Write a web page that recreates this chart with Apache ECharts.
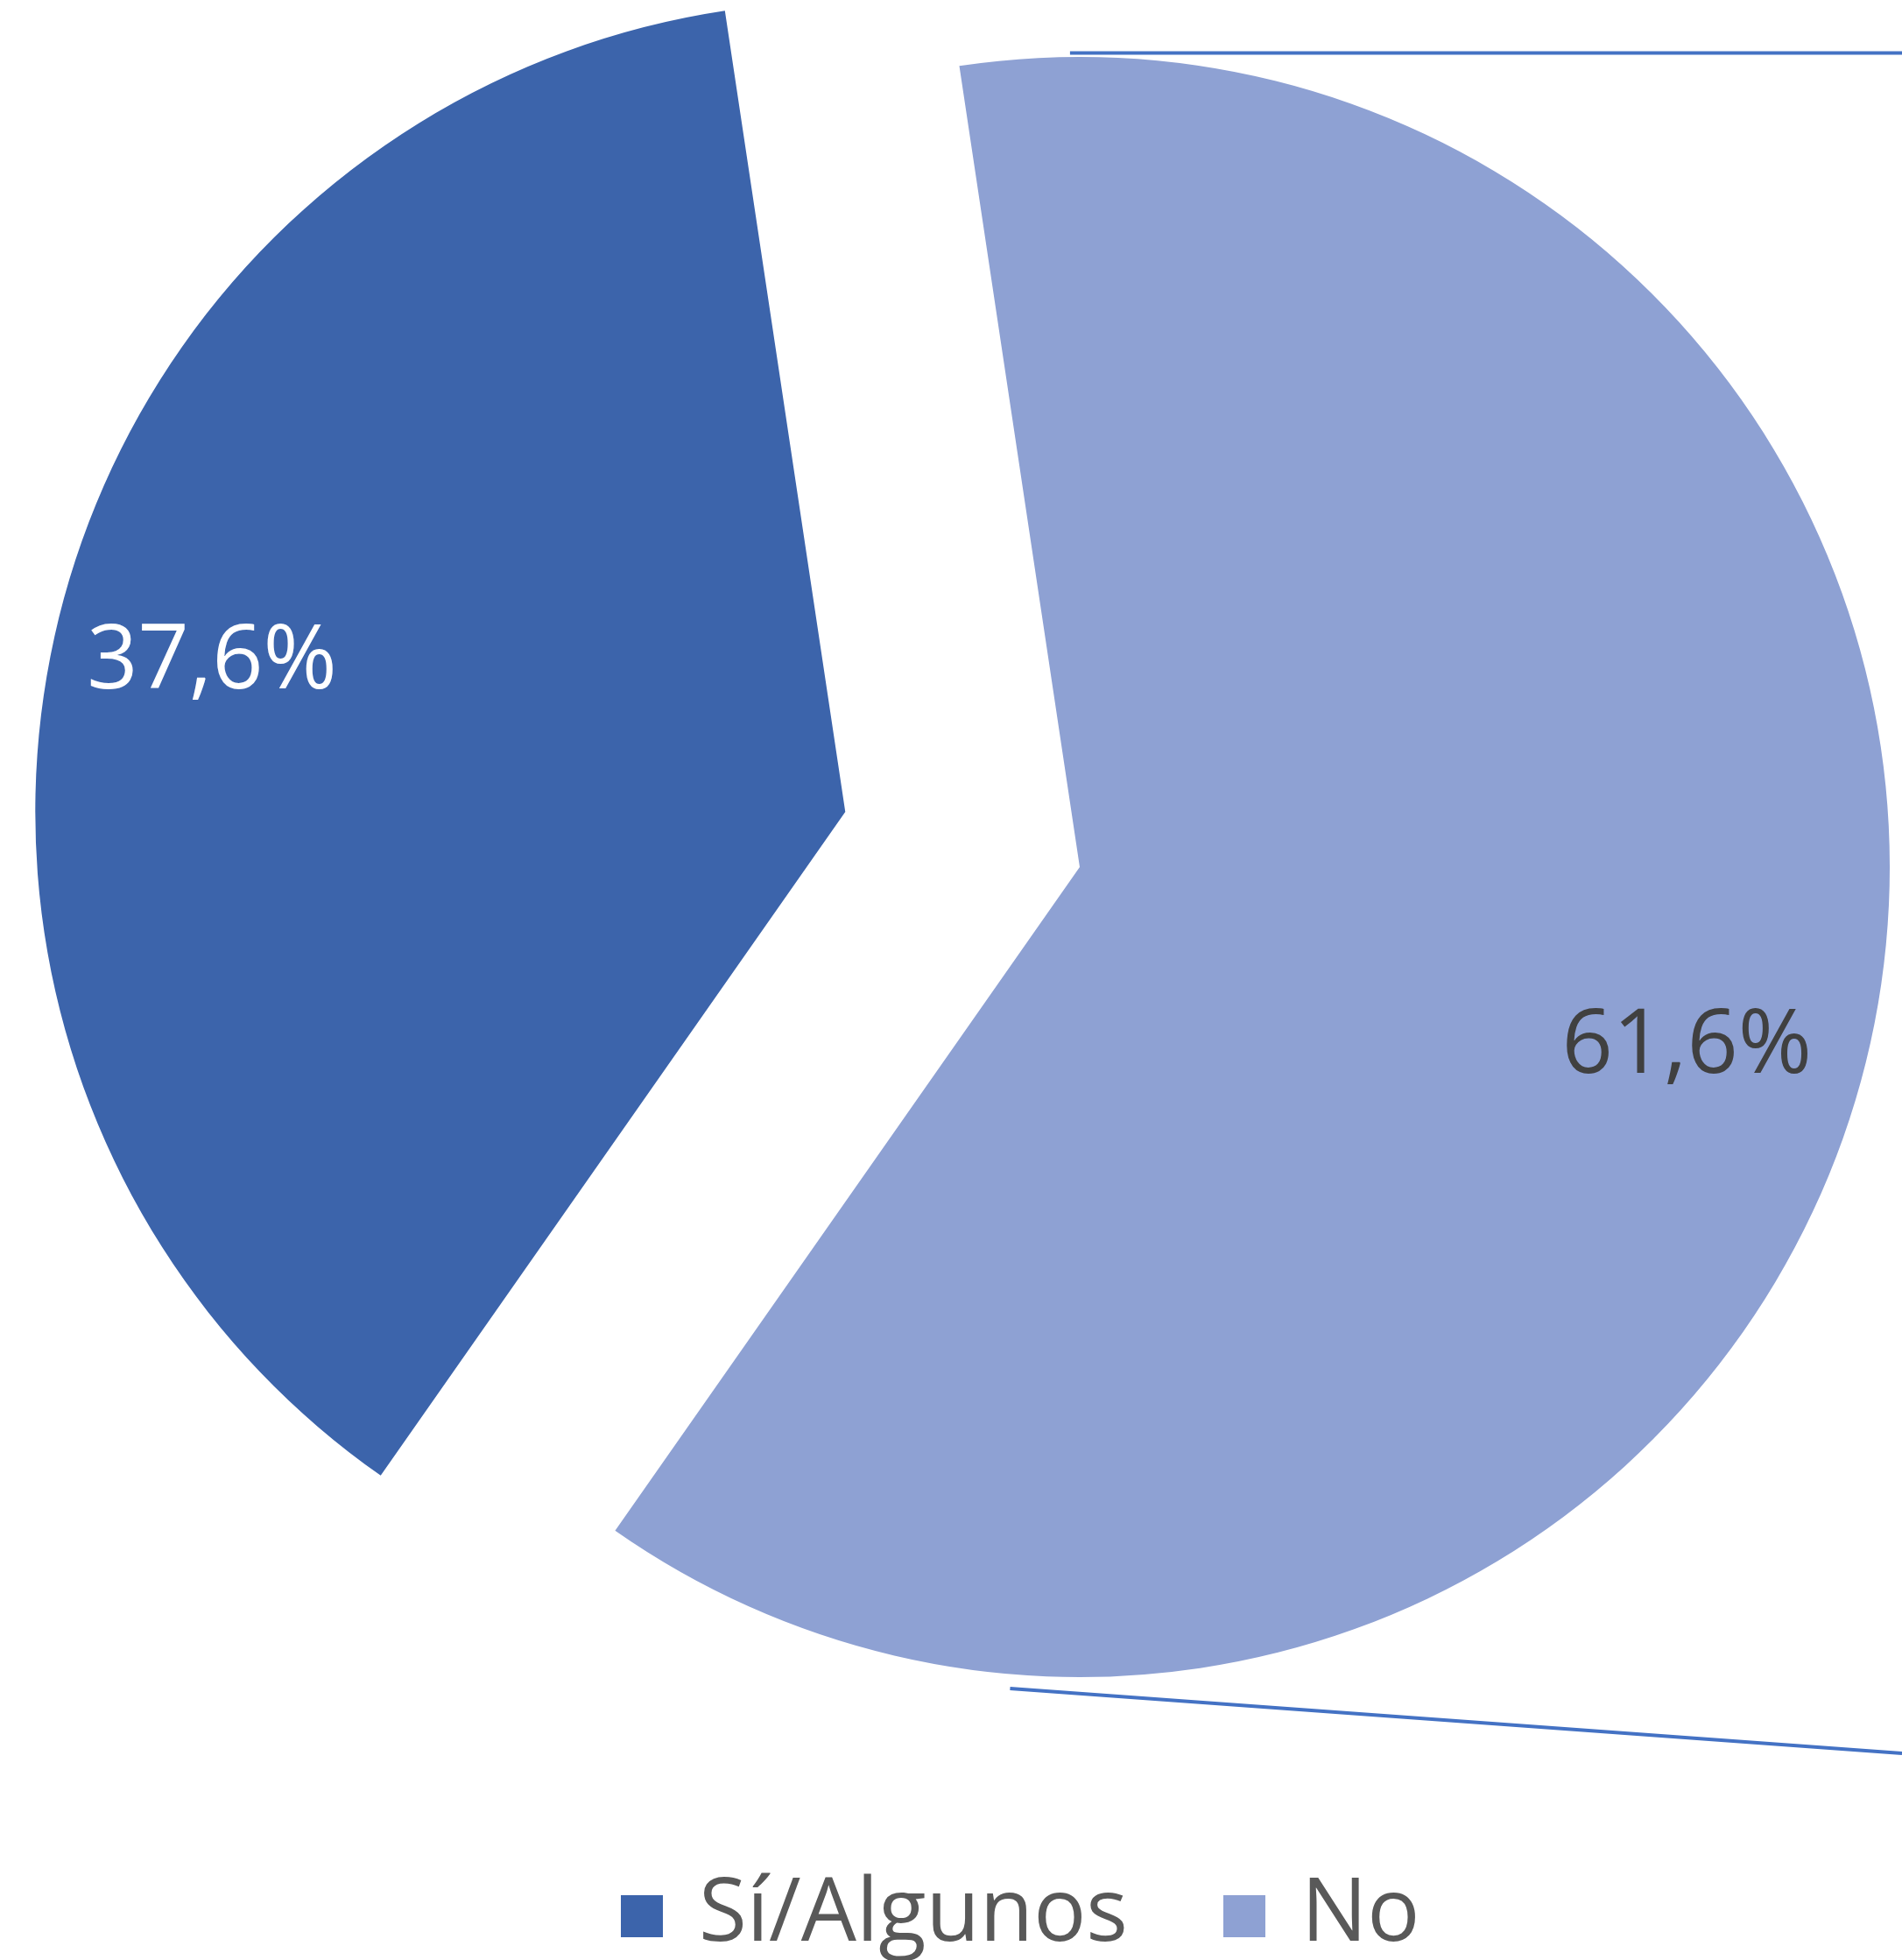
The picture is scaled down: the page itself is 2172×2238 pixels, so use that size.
<!DOCTYPE html>
<html>
<head>
<meta charset="utf-8">
<script src="https://cdn.jsdelivr.net/npm/echarts@6/dist/echarts.min.js"></script>
<style>
html,body{margin:0;padding:0;background:#fff;}
#chart{width:2172px;height:2238px;}
</style>
</head>
<body>
<div id="chart"></div>
<script>
// ---- data ----
const categories = ['Sí/Algunos', 'No'];
const values = [37.6, 61.6];
const sliceColors = ['#3C64AB', '#8EA1D3'];
const labelColors = ['#FFFFFF', '#404040'];

// ---- layout ----
const CX = 1233, CY = 990, R = 925;
const FONT = '"Open Sans", "Noto Sans", sans-serif';
const labelOffsets = [[0, 0], [-30, 36]];

function fmt(v) { return String(v.toFixed(1)).replace('.', ',') + '%'; }

const chart = echarts.init(document.getElementById('chart'), null, { renderer: 'canvas' });

const baseData = categories.map((c, i) => ({
  name: c, value: values[i], selected: i === 0,
  itemStyle: { color: sliceColors[i] }
}));
const labelData = categories.map((c, i) => ({
  name: c, value: values[i], selected: i === 0,
  itemStyle: { color: 'rgba(0,0,0,0)' },
  label: { color: labelColors[i], offset: labelOffsets[i] }
}));

const option = {
  backgroundColor: '#ffffff',
  animation: false,
  textStyle: { fontFamily: FONT },
  legend: {
    left: 704,
    top: 2128,
    orient: 'horizontal',
    itemWidth: 48,
    itemHeight: 48,
    itemGap: 109,
    icon: 'rect',
    selectedMode: false,
    data: categories.map((c, i) => ({ name: c, itemStyle: { color: sliceColors[i] } })),
    textStyle: { fontFamily: FONT, fontSize: 100, color: '#595959', lineHeight: 110, padding: [0, 0, 0, 36] }
  },
  series: [
    {
      type: 'pie',
      center: [CX, CY],
      radius: R,
      startAngle: 235,
      clockwise: true,
      selectedMode: 'single',
      selectedOffset: 275,
      emphasis: { disabled: true },
      label: { show: false },
      labelLine: { show: false },
      itemStyle: { borderWidth: 0 },
      data: baseData
    },
    {
      type: 'pie',
      center: [CX, CY],
      radius: [R * 0.6, R],
      startAngle: 235,
      clockwise: true,
      selectedMode: 'single',
      selectedOffset: 275,
      silent: true,
      emphasis: { disabled: true },
      labelLine: { show: false },
      label: {
        show: true,
        position: 'inside',
        fontFamily: FONT,
        fontSize: 102,
        formatter: p => fmt(p.value)
      },
      itemStyle: { borderWidth: 0 },
      data: labelData
    }
  ],
  graphic: [
    {
      type: 'line',
      shape: { x1: CX - 0.012 * R, y1: CY - 1.005 * R, x2: 2172, y2: CY - 1.005 * R },
      style: { stroke: '#4472C4', lineWidth: 4 }
    },
    {
      type: 'line',
      shape: { x1: CX - 0.086 * R, y1: CY + 1.014 * R, x2: 2172, y2: CY + 1.094 * R },
      style: { stroke: '#4472C4', lineWidth: 4 }
    }
  ]
};

chart.setOption(option);
</script>
</body>
</html>
